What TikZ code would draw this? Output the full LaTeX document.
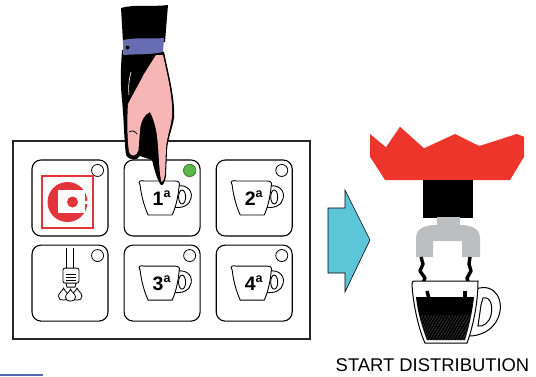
\documentclass[tikz,border=0pt]{standalone}
\usepackage{fontspec}
\setmainfont{Liberation Sans}
\usetikzlibrary{positioning, calc}

\definecolor{crownred}{RGB}{238,53,43}
\definecolor{logored}{RGB}{226,52,58}
\definecolor{ledgreen}{RGB}{92,182,72}
\definecolor{arrowcyan}{RGB}{92,198,216}
\definecolor{filtergray}{RGB}{188,190,192}
\definecolor{skin}{RGB}{246,182,182}
\definecolor{cuffblue}{RGB}{104,108,178}
\definecolor{barblue}{RGB}{82,104,178}

\newcommand{\numa}[1]{#1\raisebox{0.42em}{\fontsize{12.5}{12.5}\selectfont a}}

\tikzset{
  cupicon/.pic={
    % handle first, the body covers the joint
    \draw[line width=0.9pt, fill=white] (12,-11) .. controls (22,-15) and (31,-9) .. (29,0)
      .. controls (28,7) and (20,11) .. (11,9);
    \draw[line width=0.9pt] (20,-1) ellipse [x radius=3.5, y radius=7];
    \draw[line width=0.9pt, fill=white] (-22,-13) .. controls (-25,-17) and (-21,-18) .. (-18,-17)
      -- (13,-17) .. controls (17,-17) and (18,-15) .. (17,-12)
      .. controls (16,0) and (13,11) .. (10,17) -- (-14,17)
      .. controls (-18,8) and (-21,-3) .. (-22,-13) -- cycle;
  },
  drop/.pic={
    \draw[line width=0.8pt, fill=white] (0,-6) .. controls (1,-3) and (5,-1) .. (5,2)
      .. controls (5,5) and (3,6) .. (0,6) .. controls (-3,6) and (-5,5) .. (-5,2)
      .. controls (-5,-1) and (-1,-3) .. (0,-6) -- cycle;
  }
}

\begin{document}
\begin{tikzpicture}[x=1pt, y=-1pt, node distance=15pt,
  btn/.style={rectangle, draw, line width=1.1pt, rounded corners=9pt, minimum width=76pt, minimum height=76pt},
  led/.style={circle, draw, line width=0.8pt, fill=white, minimum size=12pt, inner sep=0pt},
  num/.style={font=\fontsize{19.5}{19.5}\selectfont\bfseries, inner sep=0pt, anchor=base}]
\useasboundingbox (0,0) rectangle (536,376);

% keypad
\node[draw, line width=1.2pt, draw=black!85, minimum width=297pt, minimum height=198pt] (panel) at (161.5,240) {};
\node[btn] (logo) at (70,198) {};
\node[btn, right=of logo] (cup1) {};
\node[btn, right=of cup1] (cup2) {};
\node[btn, below=8pt of logo] (lamp) {};
\node[btn, right=of lamp] (cup3) {};
\node[btn, right=of cup3] (cup4) {};
\foreach \b in {logo,cup1,cup2,lamp,cup3,cup4}
  \node[led] (led-\b) at ($(\b.north east)+(-11,11)$) {};
\node[led, fill=ledgreen, draw=ledgreen!80!black] at (led-cup1) {};

% brand logo
\begin{scope}[shift={(logo)}]
  \draw[logored, line width=1.2pt] (-28,-22) rectangle (23,30);
  \fill[logored] (-2.5,4) circle (20);
  \fill[white] (-12,-8) rectangle (15,15);
  \fill[white] (2,2.5) rectangle (20,5.5);
  \fill[logored] (2.5,4) circle (5.5);
\end{scope}

% cups with their numbers
\foreach \b/\n in {cup1/1,cup2/2,cup3/3,cup4/4} {
  \pic at (\b) {cupicon};
  \node[num] (n\n) at ($(\b)+(-0.5,7.5)$) {\numa{\n}};
}

% steam wand
\begin{scope}[shift={(lamp)}, line width=0.8pt]
  \draw (-4,-35) -- (-4,-15) (3,-35) -- (3,-15);
  \draw[rounded corners=2pt] (-7,-15) rectangle (9,0);
  \foreach \yy in {-9,-6,-3} \draw (-4,\yy) -- (6,\yy);
  \draw (-4,0) -- (-3,4) -- (5,4) -- (6,0);
  \pic at (-6.5,11) {drop};
  \pic at (7,11) {drop};
  \pic at (0.5,12) {drop};
\end{scope}

% hand pressing the first button
\fill[black] (121,8) .. controls (135,4) and (155,7) .. (168,5) -- (165,42) -- (123,42) -- cycle;
\fill[black] (122,50) -- (164,52) .. controls (170,80) and (175,100) .. (174,118)
  .. controls (172,130) and (168,138) .. (167,150) -- (166,176) .. controls (165,182) and (163,186) .. (161,185)
  .. controls (157,180) and (154,168) .. (152,160) -- (140,156) .. controls (137,161) and (130,161) .. (126,155)
  .. controls (124,140) and (124,120) .. (122,100) .. controls (120,80) and (121,65) .. (122,50) -- cycle;
\fill[skin] (156,55) -- (163,55) .. controls (168,78) and (173,98) .. (172,116)
  .. controls (171,127) and (167,136) .. (166,148) -- (165,174) .. controls (164,180) and (163,182) .. (161.5,182)
  .. controls (159.5,175) and (159,160) .. (158,146) .. controls (157,132) and (155,122) .. (150,112)
  .. controls (145,114) and (141,120) .. (140,130) -- (138.5,150) .. controls (137,156) and (131,158) .. (129,152)
  .. controls (127,138) and (127,118) .. (128,104) .. controls (133,94) and (139,84) .. (144,74) -- cycle;
\draw[black, line width=0.8pt] (129,132) .. controls (132,130) and (135,131) .. (137,134);
\draw[white, line width=0.6pt] (131,72) .. controls (129,80) and (128,88) .. (129,95);
\fill[cuffblue] (123,40) .. controls (138,37) and (152,39) .. (164,38) -- (163,52)
  .. controls (150,55) and (135,54) .. (123,55) -- cycle;
\fill[black] (127.5,47.5) circle (2);

% arrow towards the group head
\draw[fill=arrowcyan, line width=0.6pt] (328,208) -- (345,208) -- (345,190) -- (370,240)
  -- (345,292) -- (345,273) -- (328,273) -- cycle;

% group head
\fill[crownred] (370,134) -- (386,147.3) -- (400,126.7) -- (424,148.3) -- (455,134) -- (479.3,146)
  -- (516.7,134) -- (524,136.7) -- (524,156.7) -- (510,180) -- (385,180) -- (370,156.7) -- cycle;
\fill[black] (423,180) rectangle (473,218);
\fill[filtergray] (437,217) rectangle (460,226);
\fill[filtergray] (416,257) -- (416,238) .. controls (416,229) and (424,225) .. (436,225)
  -- (460,225) .. controls (472,225) and (480,229) .. (480,238) -- (480,257) -- (462,257)
  -- (462,241) -- (433,241) -- (433,257) -- cycle;

% coffee streams
\draw[line width=3.4pt, line join=round] (421,257) -- (423,264) -- (420,271) -- (425,278) -- (422,285) -- (427,291) -- (429,299);
\draw[line width=3.4pt, line join=round] (470,257) -- (469,264) -- (471,271) -- (467,278) -- (469,285) -- (465,291) -- (465,299);

% espresso cup
\draw[fill=white, line width=1pt, even odd rule] (476,289) .. controls (496,282) and (505,302) .. (498,318)
  .. controls (493,330) and (481,336) .. (469,336) -- (472,318) -- cycle
  (483,298) .. controls (491,296) and (493,307) .. (491,315) .. controls (489,323) and (483,327) .. (478,326) -- (481,305) -- cycle;
\draw[fill=white, line width=1pt] (412,284) .. controls (412,281) and (413,281) .. (416,281) -- (478,281)
  .. controls (478,305) and (472,330) .. (467,343) -- (425,343)
  .. controls (419,330) and (413,305) .. (412,284) -- cycle;
\fill[black] (416,297) -- (474,297) .. controls (472,315) and (468,330) .. (465,340) -- (427,340)
  .. controls (423,330) and (418,315) .. (416,297) -- cycle;
\begin{scope}
  \clip (418,315) -- (472,315) -- (465,340) -- (427,340) -- cycle;
  \foreach \i in {0,3,...,66} \draw[black!65, line width=0.3pt] (405+\i,345) -- (425+\i,312);
\end{scope}
% streams run on into the coffee
\draw[line width=3.4pt] (427,291) -- (429,299);
\draw[line width=3.4pt] (465,291) -- (465,299);

\node[font=\fontsize{18.4}{20}\selectfont, anchor=base, inner sep=0pt] (caption) at (432.5,371.7) {START DISTRIBUTION};

\fill[barblue] (0,373.6) rectangle (43,376);
\end{tikzpicture}
\end{document}
